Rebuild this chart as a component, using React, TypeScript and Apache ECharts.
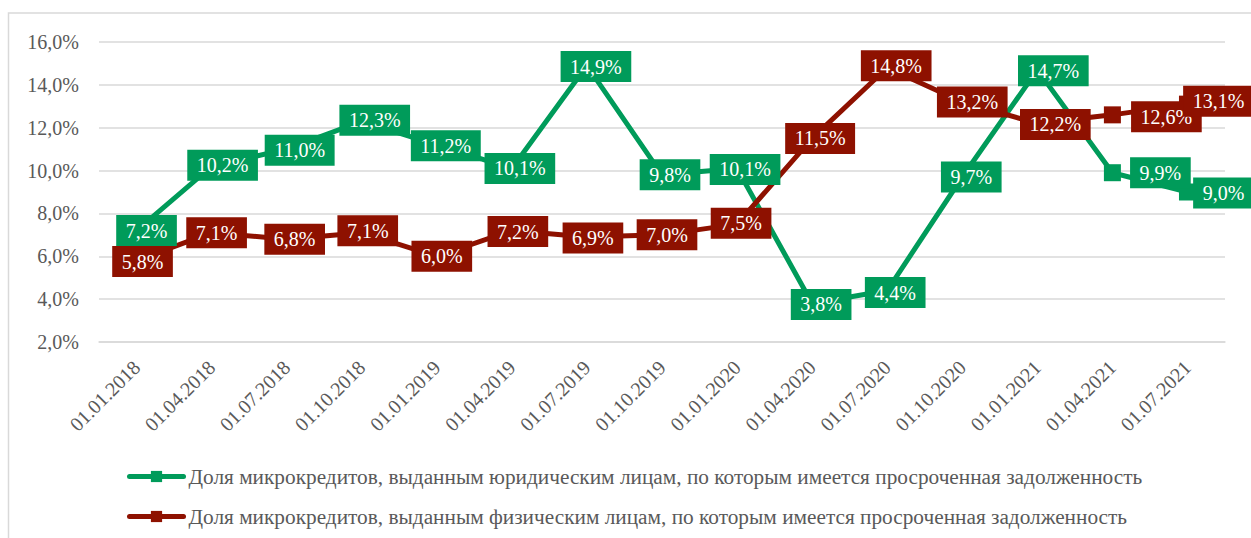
import React, { useEffect, useRef } from "react";
import * as echarts from "echarts";

const categories = [
  "01.01.2018", "01.04.2018", "01.07.2018", "01.10.2018",
  "01.01.2019", "01.04.2019", "01.07.2019", "01.10.2019",
  "01.01.2020", "01.04.2020", "01.07.2020", "01.10.2020",
  "01.01.2021", "01.04.2021", "01.07.2021",
];

const legalName =
  "Доля микрокредитов, выданным юридическим лицам, по которым имеется просроченная задолженность";
const individualName =
  "Доля микрокредитов, выданным физическим лицам, по которым имеется просроченная задолженность";

const legalValues = [7.2, 10.2, 11.0, 12.3, 11.2, 10.1, 14.9, 9.8, 10.1, 3.8, 4.4, 9.7, 14.7, 9.9, 9.0];
const individualValues = [5.8, 7.1, 6.8, 7.1, 6.0, 7.2, 6.9, 7.0, 7.5, 11.5, 14.8, 13.2, 12.2, 12.6, 13.1];

// label box offsets (px) relative to each point
const legalLabelOffsets = [
  [10, 0], [11, -1], [13, 1], [13, -1], [9, 1], [8, 0], [9, 1], [8, 0],
  [8, 1], [9, 1], [8, 2], [9, 0], [16, 1], [48, 0], [36, 1],
];
const individualLabelOffsets = [
  [6, 1], [5, 0], [8, 0], [6, -2], [5, 0], [6, 1], [6, 1], [5, 0],
  [4, -1], [8, 0], [9, -2], [10, 0], [18, 1], [54, 2], [31, -3],
];

const GREEN = "#009B5A";
const RED = "#8E1100";
const FONT = "Liberation Serif";
const fmt = (v: number) => v.toFixed(1).replace(".", ",") + "%";

function buildSeries(name: string, values: number[], offsets: number[][], color: string) {
  return {
    name,
    type: "line",
    data: values.map((v, i) => ({
      value: v,
      label: { offset: offsets[i] },
    })),
    symbol: "rect",
    symbolSize: 17,
    showAllSymbol: true,
    lineStyle: { color, width: 5 },
    itemStyle: { color },
    label: {
      show: true,
      position: "inside",
      formatter: (p: any) => fmt(p.value),
      color: "#ffffff",
      fontFamily: FONT,
      fontSize: 20,
      lineHeight: 22,
      backgroundColor: color,
      padding: [4.5, 9.5],
    },
    emphasis: { disabled: true },
  };
}

export default function App() {
  const ref = useRef<HTMLDivElement>(null);
  useEffect(() => {
    if (!ref.current) return;
    const chart = echarts.init(ref.current, undefined, { renderer: "svg" });
    chart.setOption({
      animation: false,
      backgroundColor: "#ffffff",
      textStyle: { fontFamily: FONT },
      grid: { left: 99, right: 26, top: 42, bottom: 196 },
      graphic: [
        {
          type: "rect",
          shape: { x: 8.5, y: 13, width: 1400, height: 700 },
          style: { fill: "none", stroke: "#D9D9D9", lineWidth: 1.5 },
          silent: true,
          z: -1,
        },
      ],
      legend: {
        orient: "vertical",
        left: 122,
        top: 461,
        itemWidth: 54,
        itemHeight: 14,
        itemGap: 19,
        lineStyle: { width: 5, cap: "round" },
        textStyle: { fontFamily: FONT, fontSize: 21.3, color: "#595959", lineHeight: 21 },
        data: [legalName, individualName],
      },
      xAxis: {
        type: "category",
        data: categories,
        boundaryGap: true,
        axisLine: { show: true, lineStyle: { color: "#D9D9D9", width: 1.5 } },
        axisTick: { show: false },
        axisLabel: {
          rotate: 45,
          interval: 0,
          margin: 22,
          color: "#595959",
          fontFamily: FONT,
          fontSize: 20,
        },
      },
      yAxis: {
        type: "value",
        min: 2,
        max: 16,
        interval: 2,
        axisLine: { show: false },
        axisTick: { show: false },
        splitLine: { lineStyle: { color: "#D9D9D9", width: 1.5 } },
        axisLabel: {
          margin: 20,
          color: "#595959",
          fontFamily: FONT,
          fontSize: 20,
          formatter: (v: number) => fmt(v),
        },
      },
      series: [
        buildSeries(legalName, legalValues, legalLabelOffsets, GREEN),
        buildSeries(individualName, individualValues, individualLabelOffsets, RED),
      ],
    });
    return () => chart.dispose();
  }, []);
  return (
    <div
      ref={ref}
      style={{ position: "absolute", left: 0, top: 0, width: 1251, height: 538 }}
    />
  );
}
